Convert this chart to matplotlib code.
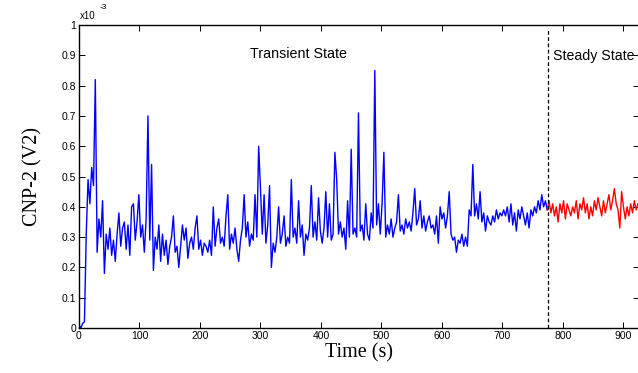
import numpy as np
import matplotlib.pyplot as plt

# CNP-2 signal, sampled every 3 s (values in units of 1e-3 V)
t_transient = np.arange(0, 775, 3)
v_transient = [
    0.01, 0.00, 0.015, 0.02, 0.31, 0.49, 0.41, 0.53, 0.47, 0.82,
    0.25, 0.36, 0.30, 0.42, 0.18, 0.31, 0.26, 0.33, 0.24, 0.29,
    0.22, 0.31, 0.38, 0.27, 0.33, 0.35, 0.26, 0.34, 0.24, 0.40,
    0.41, 0.29, 0.35, 0.44, 0.30, 0.34, 0.25, 0.36, 0.70, 0.29,
    0.54, 0.19, 0.30, 0.26, 0.34, 0.22, 0.31, 0.24, 0.29, 0.21,
    0.27, 0.30, 0.37, 0.25, 0.27, 0.20, 0.27, 0.34, 0.29, 0.33,
    0.23, 0.28, 0.30, 0.26, 0.33, 0.37, 0.26, 0.29, 0.24, 0.28,
    0.27, 0.25, 0.29, 0.24, 0.40, 0.27, 0.33, 0.36, 0.28, 0.30,
    0.27, 0.37, 0.44, 0.26, 0.31, 0.28, 0.33, 0.26, 0.22, 0.29,
    0.33, 0.44, 0.30, 0.35, 0.27, 0.31, 0.29, 0.44, 0.30, 0.60,
    0.46, 0.31, 0.44, 0.28, 0.34, 0.47, 0.20, 0.28, 0.25, 0.30,
    0.40, 0.28, 0.31, 0.37, 0.27, 0.30, 0.28, 0.49, 0.30, 0.33,
    0.28, 0.42, 0.30, 0.34, 0.24, 0.31, 0.29, 0.33, 0.47, 0.30,
    0.35, 0.29, 0.43, 0.32, 0.28, 0.33, 0.45, 0.30, 0.41, 0.29,
    0.31, 0.58, 0.49, 0.31, 0.35, 0.30, 0.33, 0.26, 0.42, 0.30,
    0.59, 0.31, 0.33, 0.30, 0.71, 0.32, 0.34, 0.29, 0.41, 0.31,
    0.29, 0.38, 0.33, 0.85, 0.34, 0.41, 0.31, 0.41, 0.58, 0.30,
    0.34, 0.31, 0.36, 0.30, 0.33, 0.35, 0.44, 0.32, 0.34, 0.31,
    0.36, 0.33, 0.35, 0.32, 0.38, 0.46, 0.34, 0.36, 0.42, 0.33,
    0.37, 0.32, 0.35, 0.37, 0.33, 0.34, 0.31, 0.37, 0.28, 0.40,
    0.36, 0.38, 0.33, 0.37, 0.45, 0.31, 0.29, 0.30, 0.25, 0.29,
    0.28, 0.31, 0.27, 0.30, 0.27, 0.39, 0.37, 0.54, 0.37, 0.41,
    0.36, 0.45, 0.35, 0.38, 0.32, 0.37, 0.35, 0.34, 0.37, 0.35,
    0.39, 0.36, 0.38, 0.37, 0.39, 0.37, 0.40, 0.35, 0.41, 0.34,
    0.38, 0.32, 0.39, 0.36, 0.40, 0.37, 0.34, 0.38, 0.33, 0.39,
    0.37, 0.40, 0.38, 0.42, 0.39, 0.44, 0.40, 0.42, 0.39,
]

t_steady = np.arange(774, 925, 3)
v_steady = [
    0.39, 0.42, 0.38, 0.41, 0.37, 0.40, 0.35, 0.41, 0.38, 0.42,
    0.36, 0.41, 0.39, 0.37, 0.40, 0.38, 0.42, 0.36, 0.41, 0.39,
    0.43, 0.38, 0.41, 0.36, 0.40, 0.37, 0.42, 0.39, 0.43, 0.40,
    0.37, 0.42, 0.38, 0.41, 0.44, 0.39, 0.42, 0.46, 0.41, 0.39,
    0.33, 0.45, 0.40, 0.36, 0.40, 0.37, 0.41, 0.38, 0.42, 0.39,
    0.41,
]

t_switch = 775
x_ticks = list(range(0, 1000, 100))
y_ticks = [0, 0.1, 0.2, 0.3, 0.4, 0.5, 0.6, 0.7, 0.8, 0.9, 1]
y_tick_labels = ['0', '0.1', '0.2', '0.3', '0.4', '0.5', '0.6', '0.7', '0.8', '0.9', '1']

plt.rcParams['font.family'] = 'Liberation Sans'

fig = plt.figure(figsize=(6.38, 3.73), dpi=100)
ax = fig.add_axes([0.1238, 0.1206, 0.8771, 0.8123])

ax.plot(t_transient, v_transient, color='#0000ff', lw=1.0)
ax.plot(t_steady, v_steady, color='#ff0000', lw=1.0)
ax.plot([t_switch, t_switch], [0, 0.99], color='black', lw=0.9, ls=(0, (3, 2)))

ax.set_xlim(0, 925)
ax.set_ylim(0, 1)
ax.set_xticks(x_ticks)
ax.set_yticks(y_ticks)
ax.set_yticklabels(y_tick_labels)
ax.tick_params(direction='in', length=4.3, width=0.7, labelsize=7.5,
               top=True, right=True, pad=2)
for s in ax.spines.values():
    s.set_linewidth(1.0)

ax.text(363, 0.905, 'Transient State', fontsize=10.3, ha='center', va='center')
ax.text(783, 0.898, 'Steady State', fontsize=10.2, ha='left', va='center')

# matlab-style exponent above the y axis
ax.text(0.002, 1.012, 'x10', transform=ax.transAxes, fontsize=7,
        ha='left', va='bottom')
ax.text(0.037, 1.045, '-3', transform=ax.transAxes, fontsize=6,
        ha='left', va='bottom')

ax.set_xlabel('Time (s)', family='Liberation Serif', fontsize=14.5, labelpad=2)
ax.set_ylabel('CNP-2 (V2)', family='Liberation Serif', fontsize=14.5, labelpad=14)

plt.savefig('out.png', dpi=100)
